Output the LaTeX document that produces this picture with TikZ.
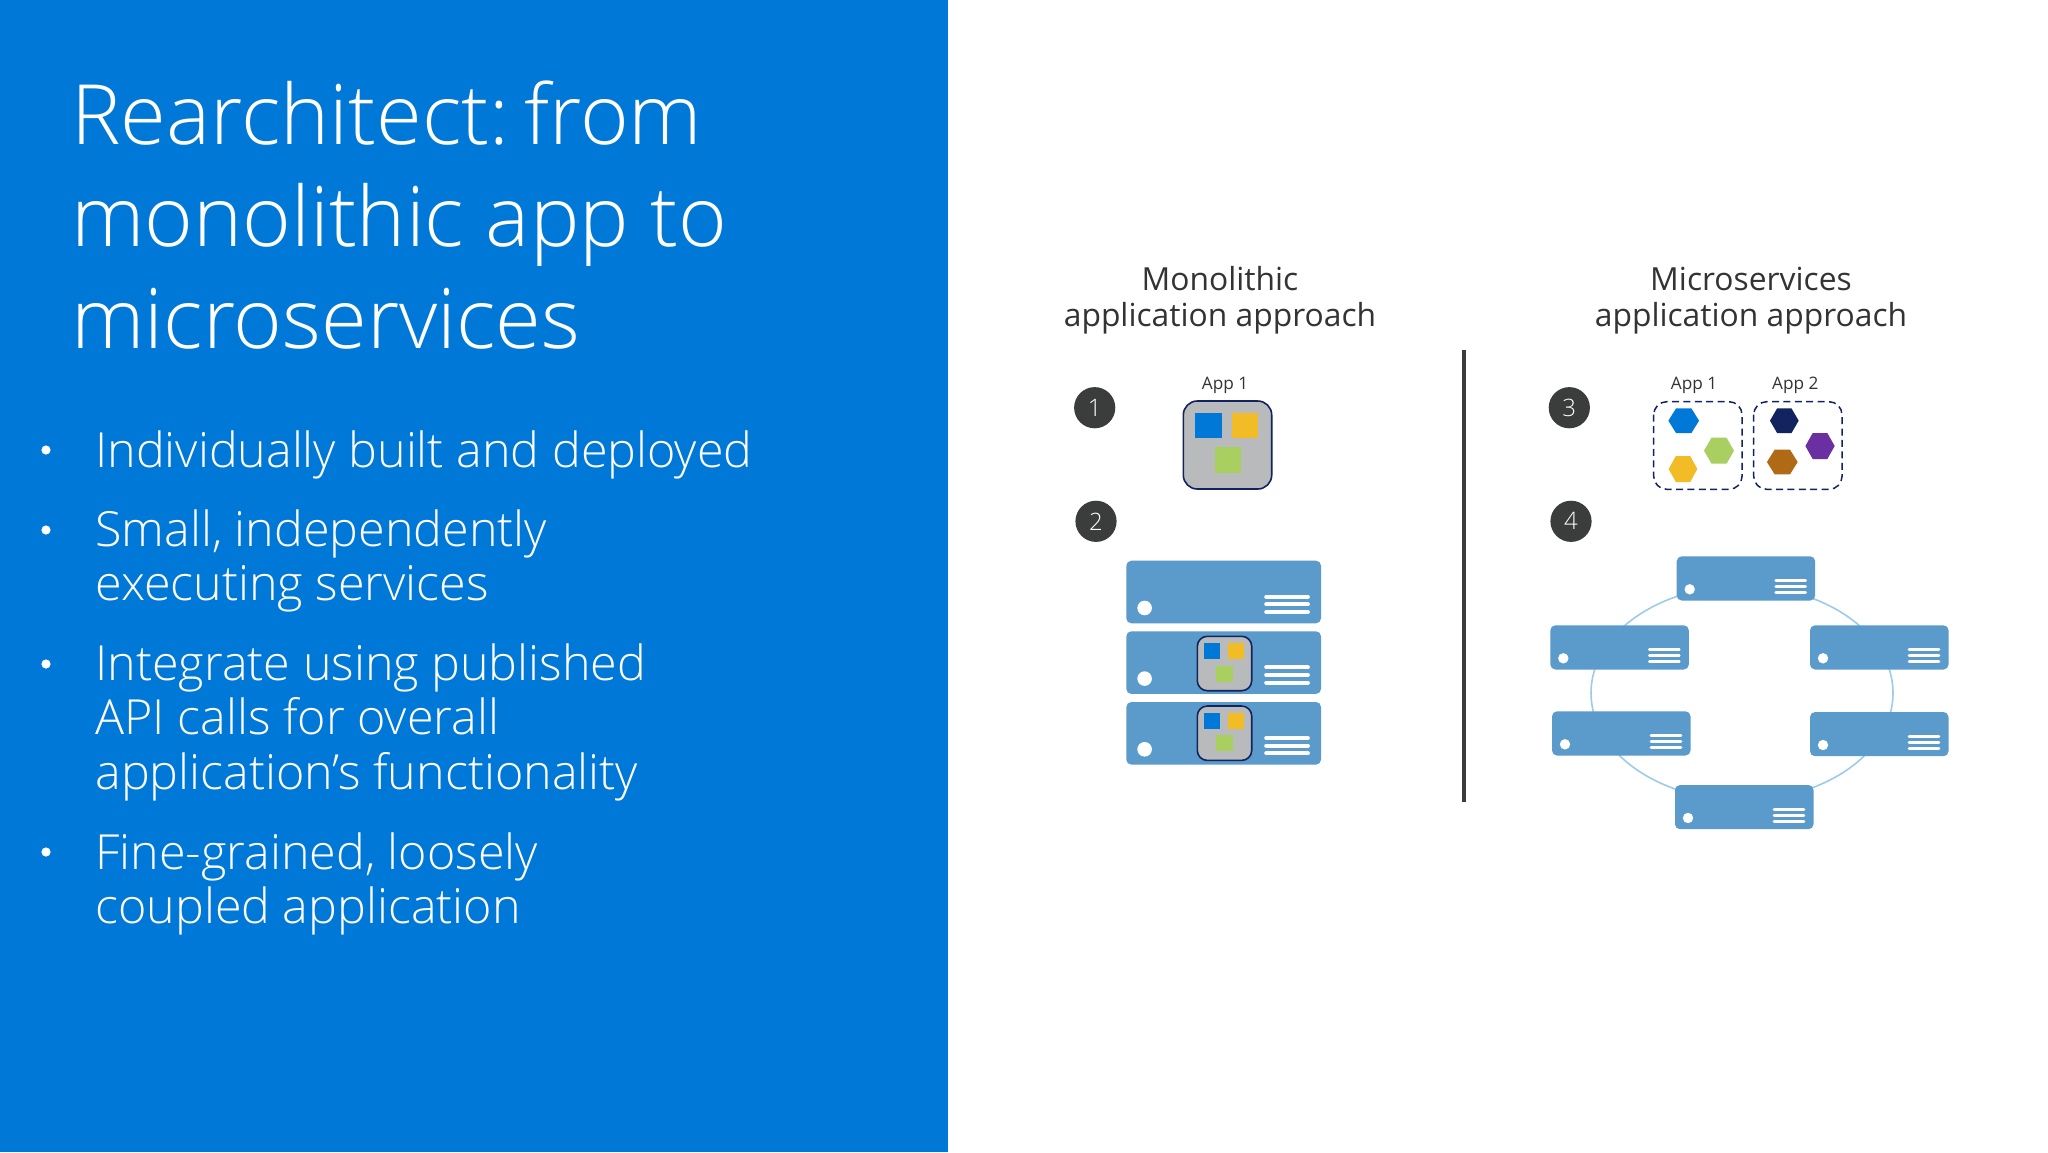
\documentclass[tikz,border=0pt]{standalone}
\usepackage{fontspec}
\setmainfont{Open Sans}
\newfontfamily\lightf{Open Sans Light}
\definecolor{panel}{HTML}{0078D7}
\definecolor{srv}{HTML}{5B9BCB}
\definecolor{ink}{HTML}{333333}
\definecolor{disc}{HTML}{3B3D3C}
\definecolor{navy}{HTML}{12235F}
\definecolor{appgray}{HTML}{B8BABB}
\definecolor{cblue}{HTML}{0078D7}
\definecolor{cyel}{HTML}{F2BC26}
\definecolor{cgrn}{HTML}{A8CF60}
\definecolor{cpur}{HTML}{6A2FA0}
\definecolor{cbrn}{HTML}{B06A16}
\definecolor{ring}{HTML}{9CCBEC}
\tikzset{
  title/.style={anchor=base west,inner sep=0,text=white,font=\lightf\fontsize{41.6}{41.6}\selectfont},
  body/.style={anchor=base west,inner sep=0,text=white,font=\lightf\fontsize{24.2}{24.2}\selectfont},
  bul/.style={circle,fill=white,inner sep=0,minimum size=4.6pt},
  head/.style={anchor=base,inner sep=0,text=ink,font=\fontsize{15.9}{15.9}\selectfont},
  applabel/.style={anchor=base,inner sep=0,text=ink,font=\fontsize{8.6}{8.6}\selectfont},
  badge/.style={circle,fill=disc,text=white,inner sep=0,minimum size=20.6pt,font=\lightf\fontsize{12}{12}\selectfont},
  dotc/.style={circle,fill=white,inner sep=0},
  bar/.style={draw=white,line cap=round},
  appbox/.style={fill=appgray,draw=navy,line width=.8pt},
  dashbox/.style={draw=navy,line width=.75pt,dash pattern=on 3.5pt off 2.2pt,rounded corners=6.5pt},
}
% large server: x y
\newcommand{\bigsrv}[2]{%
  \fill[srv,rounded corners=2.5pt] (#1,#2) rectangle ++(194.7,62.6);
  \node[dotc,minimum size=7.3pt] at ($(#1,#2)+(18.3,47.3)$) {};
  \foreach \yy in {36,43.6,51.3}{\draw[bar,line width=2.1pt] ($(#1,#2)+(140,\yy)$) -- ++(41.5,0);}
}
% ring server: x y
\newcommand{\ringsrv}[2]{%
  \fill[srv,rounded corners=2.5pt] (#1,#2) rectangle ++(138.5,44.2);
  \node[dotc,minimum size=5.2pt] at ($(#1,#2)+(13,33)$) {};
  \foreach \yy in {24.3,30.3,36.3}{\draw[bar,line width=1.3pt] ($(#1,#2)+(99,\yy)$) -- ++(30,0);}
}
% small app: x y
\newcommand{\smallapp}[2]{%
  \path[appbox,rounded corners=5pt] (#1,#2) rectangle ++(54.4,54.4);
  \fill[cblue] ($(#1,#2)+(7,6.7)$) rectangle ++(16,16);
  \fill[cyel] ($(#1,#2)+(30.3,6.7)$) rectangle ++(16,16);
  \fill[cgrn] ($(#1,#2)+(18.3,29.3)$) rectangle ++(17,16);
}
% hexagon: cx cy w h colour
\newcommand{\hexa}[5]{%
  \fill[#5] ($(#1,#2)+(-#3/2,0)$) -- ++(#3/4,-#4/2) -- ++(#3/2,0) -- ++(#3/4,#4/2) -- ++(-#3/4,#4/2) -- ++(-#3/2,0) -- cycle;
}
\usetikzlibrary{calc}
\begin{document}
\begin{tikzpicture}[x=0.5pt,y=-0.5pt]
\useasboundingbox (0,0) rectangle (2048,1152);
\fill[white] (0,0) rectangle (2048,1152);
\fill[panel] (0,0) rectangle (948,1152);
% title
\node[title] (t1) at (71,144) {Rearchitect:\kern-7pt{} from};
\node[title] (t2) at (71,246) {monolithic app to};
\node[title] (t3) at (71,348) {microservices};
% bullets
\node[bul] (b1) at (46,450) {};
\node[bul] (b2) at (46,530) {};
\node[bul] (b3) at (46,664) {};
\node[bul] (b4) at (46,852) {};
\node[body] (l1) at (95,467) {Individually built and deployed};
\node[body] (l2) at (95,546) {Small, independently};
\node[body] (l3) at (95,600) {executing services};
\node[body] (l4) at (95,680) {Integrate using published};
\node[body] (l5) at (95,734) {API calls for overall};
\node[body] (l6) at (95,789) {application’s functionality};
\node[body] (l7) at (95,869) {Fine-grained, loosely};
\node[body] (l8) at (95,923) {coupled application};
% headings
\node[head] (h1) at (1220,290) {Monolithic};
\node[head] (h2) at (1220,326) {application approach};
\node[head] (h3) at (1751,290) {Microservices};
\node[head] (h4) at (1751,326) {application approach};
% divider
\coordinate (dtop) at (1464,350);
\coordinate (dbot) at (1464,802);
\draw[disc,line width=1.7pt] (dtop) -- (dbot);
% badges
\node[badge] (n1) at (1094.7,407.7) {1};
\node[badge] (n2) at (1096,521.3) {2};
\node[badge] (n3) at (1569.3,407.7) {3};
\node[badge] (n4) at (1571,521.3) {4};
% monolithic app
\node[applabel] (a1) at (1225,389) {App 1};
\path[appbox,rounded corners=7pt] (1183.3,401) rectangle (1271.7,489);
\fill[cblue] (1194.7,412.7) rectangle (1221.7,438);
\fill[cyel] (1231.7,412.7) rectangle (1258.3,438);
\fill[cgrn] (1214.7,447.3) rectangle (1240.7,473.3);
% server stack
\bigsrv{1126.3}{560.7}
\bigsrv{1126.3}{631.3}
\bigsrv{1126.3}{702}
\smallapp{1197.3}{636.3}
\smallapp{1197.3}{706}
% microservice apps
\node[applabel] (a2) at (1694,389) {App 1};
\node[applabel] (a3) at (1795.3,389) {App 2};
\draw[dashbox] (1653.7,401.7) rectangle (1742,489.3);
\draw[dashbox] (1753.7,401.7) rectangle (1842,489.3);
\hexa{1683.7}{420.7}{30.7}{24.7}{cblue}
\hexa{1719}{450.7}{30}{26}{cgrn}
\hexa{1683}{469}{28.7}{26}{cyel}
\hexa{1784.3}{420.7}{28.7}{24.7}{navy}
\hexa{1820}{446}{29.3}{26}{cpur}
\hexa{1782.3}{462}{30.7}{24.7}{cbrn}
% ring
\draw[ring,line width=.8pt] (1742,693) ellipse [x radius=151,y radius=107];
\ringsrv{1676.7}{556.3}
\ringsrv{1550.3}{625.3}
\ringsrv{1810}{625.3}
\ringsrv{1552}{711.3}
\ringsrv{1810}{712}
\ringsrv{1675}{785}
\end{tikzpicture}
\end{document}
